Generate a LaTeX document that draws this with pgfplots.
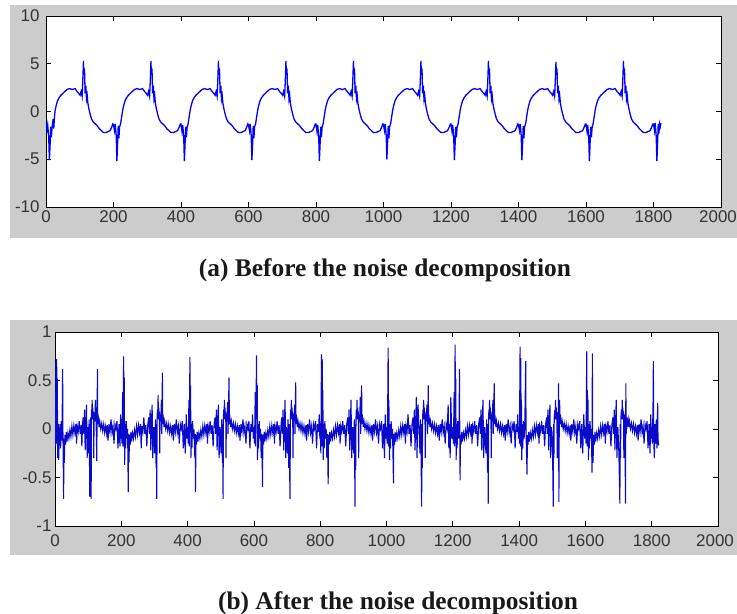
\documentclass[border=0pt]{standalone}
\usepackage{fontspec}
\setmainfont{Liberation Sans}
\newfontfamily\capfont{Liberation Serif}
\usepackage{pgfplots}
\pgfplotsset{compat=1.18}
\definecolor{figgray}{RGB}{204,204,204}
\definecolor{sigblue}{RGB}{0,0,255}
\definecolor{detblue}{RGB}{10,10,205}

\pgfplotsset{
  matlab/.style={
    scale only axis,
    anchor=south west,
    xmin=0, xmax=2000,
    xtick={0,200,...,1800},
    extra x ticks={2000},
    extra x tick style={xticklabel style={xshift=-3bp}},
    tick pos=both,
    tick align=inside,
    major tick length=5bp,
    axis line style={black, line width=0.8bp},
    tick style={black, line width=0.8bp},
    axis background/.style={fill=white},
    ticklabel style={font=\fontsize{17}{17}\selectfont, text=black!80},
    /pgf/number format/assume math mode=true,
    /pgf/number format/1000 sep={},
    scaled ticks=false,
    clip=true,
  }
}

\begin{document}
\begin{tikzpicture}
\useasboundingbox (0bp,0bp) rectangle (737bp,-614bp);
\fill[figgray] (10bp,-5bp) rectangle (737bp,-238bp);
\fill[figgray] (10bp,-320bp) rectangle (737bp,-555bp);

% (a) before
\begin{axis}[matlab,
  at={(46bp,-207bp)}, width=675bp, height=191bp,
  ymin=-10, ymax=10, ytick={-10,-5,0,5,10},
  yticklabel style={xshift=-3bp},
]
\addplot[sigblue, line width=1.3bp] coordinates {
(0,-1.2) (3,-1.9) (5,-1.4) (8,-2.6) (10,-5.1) (12,-3.6) (14,-1.6) (16,-2.7) (18,-1.7) (21,-0.8) (23,-1.8) (25,-0.6) (27,0.1) (30,0.6) (34,1.1) (38,1.4) (44,1.7) (50,1.9) (56,2.1) (62,2.3) (70,2.4) (78,2.3) (86,2.4) (92,2.1) (97,1.9) (101,1.7) (104,2.1) (107,1.6) (109,3.2) (111,5.3) (112,3.9) (114,4.5) (116,1.9) (118,2.7) (120,1.3) (122,1.7) (124,0.9) (127,0.3) (131,-0.3) (135,-0.8) (140,-1.1) (146,-1.3) (152,-1.5) (158,-1.8) (164,-2.0) (170,-2.2) (178,-2.2) (184,-2.1) (190,-2.0) (195,-1.6) (198,-1.3)
(200,-1.4) (203,-2.0) (205,-1.3) (208,-2.5) (210,-5.2) (212,-3.5) (214,-1.5) (216,-2.8) (218,-1.6) (221,-1.3) (224,-0.6) (227,0.1) (230,0.6) (234,1.1) (238,1.4) (244,1.7) (250,1.9) (256,2.1) (262,2.3) (270,2.4) (278,2.3) (286,2.4) (292,2.1) (297,1.9) (301,1.7) (304,2.1) (307,1.6) (309,3.2) (311,5.3) (312,3.9) (314,4.5) (316,1.9) (318,2.7) (320,1.3) (322,1.7) (324,0.9) (327,0.3) (331,-0.3) (335,-0.8) (340,-1.1) (346,-1.3) (352,-1.5) (358,-1.8) (364,-2.0) (370,-2.2) (378,-2.2) (384,-2.1) (390,-2.0) (395,-1.6) (398,-1.3)
(400,-1.3) (403,-2.1) (405,-1.4) (408,-2.6) (410,-5.2) (412,-3.4) (414,-1.6) (416,-2.7) (418,-1.7) (421,-1.3) (424,-0.6) (427,0.1) (430,0.6) (434,1.1) (438,1.4) (444,1.7) (450,1.9) (456,2.1) (462,2.3) (470,2.4) (478,2.3) (486,2.4) (492,2.1) (497,1.9) (501,1.7) (504,2.1) (507,1.6) (509,3.2) (511,5.3) (512,3.9) (514,4.5) (516,1.9) (518,2.7) (520,1.3) (522,1.7) (524,0.9) (527,0.3) (531,-0.3) (535,-0.8) (540,-1.1) (546,-1.3) (552,-1.5) (558,-1.8) (564,-2.0) (570,-2.2) (578,-2.2) (584,-2.1) (590,-2.0) (595,-1.6) (598,-1.3)
(600,-1.4) (603,-2.0) (605,-1.3) (608,-2.5) (610,-5.1) (612,-3.6) (614,-1.5) (616,-2.8) (618,-1.6) (621,-1.3) (624,-0.6) (627,0.1) (630,0.6) (634,1.1) (638,1.4) (644,1.7) (650,1.9) (656,2.1) (662,2.3) (670,2.4) (678,2.3) (686,2.4) (692,2.1) (697,1.9) (701,1.7) (704,2.1) (707,1.6) (709,3.2) (711,5.3) (712,3.9) (714,4.5) (716,1.9) (718,2.7) (720,1.3) (722,1.7) (724,0.9) (727,0.3) (731,-0.3) (735,-0.8) (740,-1.1) (746,-1.3) (752,-1.5) (758,-1.8) (764,-2.0) (770,-2.2) (778,-2.2) (784,-2.1) (790,-2.0) (795,-1.6) (798,-1.3)
(800,-1.3) (803,-2.1) (805,-1.4) (808,-2.6) (810,-5.2) (812,-3.5) (814,-1.6) (816,-2.7) (818,-1.7) (821,-1.3) (824,-0.6) (827,0.1) (830,0.6) (834,1.1) (838,1.4) (844,1.7) (850,1.9) (856,2.1) (862,2.3) (870,2.4) (878,2.3) (886,2.4) (892,2.1) (897,1.9) (901,1.7) (904,2.1) (907,1.6) (909,3.2) (911,5.3) (912,3.9) (914,4.5) (916,1.9) (918,2.7) (920,1.3) (922,1.7) (924,0.9) (927,0.3) (931,-0.3) (935,-0.8) (940,-1.1) (946,-1.3) (952,-1.5) (958,-1.8) (964,-2.0) (970,-2.2) (978,-2.2) (984,-2.1) (990,-2.0) (995,-1.6) (998,-1.3)
(1000,-1.4) (1003,-2.0) (1005,-1.3) (1008,-2.5) (1010,-5.0) (1012,-3.4) (1014,-1.5) (1016,-2.8) (1018,-1.6) (1021,-1.3) (1024,-0.6) (1027,0.1) (1030,0.6) (1034,1.1) (1038,1.4) (1044,1.7) (1050,1.9) (1056,2.1) (1062,2.3) (1070,2.4) (1078,2.3) (1086,2.4) (1092,2.1) (1097,1.9) (1101,1.7) (1104,2.1) (1107,1.6) (1109,3.2) (1111,5.3) (1112,3.9) (1114,4.5) (1116,1.9) (1118,2.7) (1120,1.3) (1122,1.7) (1124,0.9) (1127,0.3) (1131,-0.3) (1135,-0.8) (1140,-1.1) (1146,-1.3) (1152,-1.5) (1158,-1.8) (1164,-2.0) (1170,-2.2) (1178,-2.2) (1184,-2.1) (1190,-2.0) (1195,-1.6) (1198,-1.3)
(1200,-1.3) (1203,-2.1) (1205,-1.4) (1208,-2.6) (1210,-5.1) (1212,-3.6) (1214,-1.6) (1216,-2.7) (1218,-1.7) (1221,-1.3) (1224,-0.6) (1227,0.1) (1230,0.6) (1234,1.1) (1238,1.4) (1244,1.7) (1250,1.9) (1256,2.1) (1262,2.3) (1270,2.4) (1278,2.3) (1286,2.4) (1292,2.1) (1297,1.9) (1301,1.7) (1304,2.1) (1307,1.6) (1309,3.2) (1311,5.3) (1312,3.9) (1314,4.5) (1316,1.9) (1318,2.7) (1320,1.3) (1322,1.7) (1324,0.9) (1327,0.3) (1331,-0.3) (1335,-0.8) (1340,-1.1) (1346,-1.3) (1352,-1.5) (1358,-1.8) (1364,-2.0) (1370,-2.2) (1378,-2.2) (1384,-2.1) (1390,-2.0) (1395,-1.6) (1398,-1.3)
(1400,-1.4) (1403,-2.0) (1405,-1.3) (1408,-2.5) (1410,-5.1) (1412,-3.5) (1414,-1.5) (1416,-2.8) (1418,-1.6) (1421,-1.3) (1424,-0.6) (1427,0.1) (1430,0.6) (1434,1.1) (1438,1.4) (1444,1.7) (1450,1.9) (1456,2.1) (1462,2.3) (1470,2.4) (1478,2.3) (1486,2.4) (1492,2.1) (1497,1.9) (1501,1.7) (1504,2.1) (1507,1.6) (1509,3.2) (1511,5.2) (1512,3.9) (1514,4.5) (1516,1.9) (1518,2.7) (1520,1.3) (1522,1.7) (1524,0.9) (1527,0.3) (1531,-0.3) (1535,-0.8) (1540,-1.1) (1546,-1.3) (1552,-1.5) (1558,-1.8) (1564,-2.0) (1570,-2.2) (1578,-2.2) (1584,-2.1) (1590,-2.0) (1595,-1.6) (1598,-1.3)
(1600,-1.3) (1603,-2.1) (1605,-1.4) (1608,-2.6) (1610,-5.2) (1612,-3.4) (1614,-1.6) (1616,-2.7) (1618,-1.7) (1621,-1.3) (1624,-0.6) (1627,0.1) (1630,0.6) (1634,1.1) (1638,1.4) (1644,1.7) (1650,1.9) (1656,2.1) (1662,2.3) (1670,2.4) (1678,2.3) (1686,2.4) (1692,2.1) (1697,1.9) (1701,1.7) (1704,2.1) (1707,1.6) (1709,3.2) (1711,5.3) (1712,3.9) (1714,4.5) (1716,1.9) (1718,2.7) (1720,1.3) (1722,1.7) (1724,0.9) (1727,0.3) (1731,-0.3) (1735,-0.8) (1740,-1.1) (1746,-1.3) (1752,-1.5) (1758,-1.8) (1764,-2.0) (1770,-2.2) (1778,-2.2) (1784,-2.1) (1790,-2.0) (1795,-1.6) (1798,-1.3)
(1800,-1.3) (1803,-2.0) (1805,-1.2) (1808,-2.6) (1810,-5.2) (1812,-3.4) (1814,-1.3) (1816,-2.3) (1818,-1.3) (1820,-1.6) (1822,-1.2)
};
\end{axis}
\node[font=\capfont\bfseries\fontsize{25.5}{25.5}\selectfont, text=black!90] at (385bp,-270bp) {(a) Before the noise decomposition};

% (b) after
\begin{axis}[matlab,
  at={(55bp,-526bp)}, width=663bp, height=194bp,
  ymin=-1, ymax=1, ytick={-1,-0.5,0,0.5,1},
  yticklabel style={/pgf/number format/fixed},
  xticklabel style={yshift=-5bp},
]
\addplot[detblue, line width=1.1bp] coordinates {
(0,-0.05) (1,0.38) (2,-0.18) (3,0.70) (4,-0.15) (5,0.72) (6,0.10) (7,0.52) (8,-0.30) (10,0.05) (11,-0.32) (13,-0.08) (15,0.05) (17,-0.20) (19,0.08) (21,-0.12) (23,0.62) (24,-0.05) (26,-0.72) (27,-0.10) (28,-0.35) (30,-0.06) (32,-0.16) (34,-0.03) (36,-0.13) (39,-0.04) (42,-0.10) (45,-0.01) (48,-0.08) (51,0.03) (54,-0.06) (57,0.04) (60,-0.04) (63,0.05) (65,-0.15) (67,0.03) (70,-0.03) (73,0.08) (76,-0.05) (79,0.04) (81,-0.18) (83,0.05) (85,0.12) (87,-0.05) (89,0.20) (91,-0.22) (93,0.06) (95,0.25) (97,-0.30) (99,0.02)
(101,-0.25) (103,0.10) (105,-0.70) (106,0.05) (107,-0.30) (108,0.12) (109,-0.72) (110,0.20) (111,0.10) (112,0.30) (113,0.12) (114,0.22) (115,0.10) (116,0.18) (117,-0.30) (118,0.15) (120,0.08) (122,0.30) (124,0.10) (126,-0.33) (127,0.12) (128,0.62) (129,0.05) (131,0.10) (133,0.02) (135,0.08) (138,0.0) (141,0.06) (144,-0.02) (147,0.05) (150,-0.04) (153,0.03) (156,-0.05) (158,0.04) (160,-0.12) (163,0.05) (166,-0.03) (169,0.10) (172,-0.04) (175,0.03) (178,-0.15) (181,0.05) (184,0.0) (187,0.08) (190,-0.20) (193,0.05) (196,-0.18) (198,0.15) (199,-0.10)
(200,0.02) (202,-0.15) (204,0.38) (205,-0.18) (207,0.75) (208,0.10) (209,0.53) (210,-0.37) (212,0.05) (213,-0.20) (215,0.08) (217,-0.10) (219,0.0) (221,-0.65) (222,-0.05) (223,-0.35) (225,-0.06) (227,-0.16) (229,-0.03) (231,-0.13) (234,-0.04) (237,-0.10) (240,-0.01) (243,-0.08) (246,0.03) (249,-0.06) (252,0.04) (255,-0.04) (258,0.05) (260,-0.20) (262,0.03) (265,-0.03) (268,0.12) (271,-0.05) (274,0.04) (277,-0.18) (280,0.05) (283,0.12) (285,-0.05) (287,0.20) (289,-0.22) (291,0.06) (293,0.25) (295,-0.30) (298,0.02)
(301,-0.25) (303,0.10) (305,-0.40) (306,0.05) (307,-0.72) (308,0.12) (309,0.20) (310,0.10) (311,0.35) (312,0.12) (313,0.22) (314,0.10) (315,0.18) (316,-0.25) (317,0.15) (319,0.08) (321,0.30) (322,-0.05) (324,0.58) (325,0.05) (327,0.10) (329,0.02) (331,0.08) (334,0.0) (337,0.06) (340,-0.02) (343,0.05) (346,-0.04) (349,0.03) (352,-0.05) (355,0.04) (357,-0.12) (360,0.05) (363,-0.03) (366,0.10) (369,-0.04) (372,0.03) (375,-0.15) (378,0.05) (381,0.0) (384,0.08) (387,-0.20) (390,0.05) (393,-0.25) (396,0.15) (398,-0.10)
(400,0.02) (402,-0.15) (404,0.30) (405,-0.18) (407,0.74) (408,0.10) (409,0.45) (410,-0.30) (412,0.05) (413,-0.20) (415,0.08) (417,-0.10) (419,0.0) (422,-0.30) (423,-0.05) (424,-0.65) (425,-0.06) (427,-0.16) (429,-0.03) (431,-0.13) (434,-0.04) (437,-0.10) (440,-0.01) (443,-0.08) (446,0.03) (449,-0.06) (452,0.04) (455,-0.04) (458,0.05) (460,-0.15) (462,0.03) (465,-0.03) (468,0.08) (471,-0.05) (474,0.04) (477,-0.18) (480,0.05) (483,0.12) (485,-0.05) (487,0.20) (489,-0.22) (491,0.06) (493,0.25) (495,-0.30) (498,0.02)
(501,-0.25) (503,0.10) (505,-0.35) (506,0.05) (507,-0.72) (508,0.12) (509,0.20) (510,0.10) (511,0.30) (512,0.12) (513,0.22) (514,0.10) (515,0.18) (516,-0.30) (517,0.15) (519,0.08) (521,0.28) (522,-0.05) (525,0.53) (526,0.05) (528,0.10) (530,0.02) (532,0.08) (535,0.0) (538,0.06) (541,-0.02) (544,0.05) (547,-0.04) (550,0.03) (553,-0.05) (556,0.04) (558,-0.12) (561,0.05) (564,-0.03) (567,0.10) (570,-0.04) (573,0.03) (576,-0.15) (579,0.05) (582,0.0) (585,0.08) (588,-0.20) (591,0.05) (594,-0.03) (596,0.15) (598,-0.10)
(600,0.02) (602,-0.15) (604,0.38) (605,-0.18) (608,0.76) (609,0.10) (610,0.45) (611,-0.32) (613,0.05) (614,-0.20) (616,0.08) (618,-0.10) (620,0.0) (622,-0.30) (624,-0.05) (626,-0.60) (627,-0.06) (629,-0.16) (631,-0.03) (633,-0.13) (636,-0.04) (639,-0.10) (642,-0.01) (645,-0.08) (648,0.03) (651,-0.06) (654,0.04) (657,-0.04) (660,0.05) (662,-0.15) (664,0.03) (667,-0.03) (670,0.08) (673,-0.05) (676,0.04) (679,-0.18) (682,0.05) (684,0.12) (686,-0.05) (688,0.20) (690,-0.22) (692,0.06) (694,0.30) (696,-0.30) (698,0.02)
(701,-0.25) (703,0.10) (705,-0.40) (706,0.05) (709,-0.72) (710,0.12) (711,0.20) (712,0.10) (713,0.30) (714,0.12) (715,0.22) (716,0.10) (717,0.18) (718,-0.30) (719,0.15) (721,0.08) (723,0.25) (724,-0.05) (726,0.48) (727,0.05) (729,0.10) (731,0.02) (733,0.08) (736,0.0) (739,0.06) (742,-0.02) (745,0.05) (748,-0.04) (751,0.03) (754,-0.05) (757,0.04) (759,-0.12) (762,0.05) (765,-0.03) (768,0.10) (771,-0.04) (774,0.03) (777,-0.15) (780,0.05) (783,0.0) (786,0.08) (789,-0.20) (792,0.05) (795,-0.03) (797,0.15) (799,-0.10)
(800,0.02) (802,-0.25) (803,0.35) (804,0.77) (805,-0.18) (806,0.72) (807,0.10) (808,0.40) (809,-0.32) (811,0.05) (812,-0.20) (814,0.08) (816,-0.10) (818,0.0) (820,-0.30) (822,-0.05) (824,-0.57) (825,-0.06) (827,-0.16) (829,-0.03) (831,-0.13) (834,-0.04) (837,-0.10) (840,-0.01) (843,-0.08) (846,0.03) (849,-0.06) (852,0.04) (855,-0.04) (858,0.05) (860,-0.15) (862,0.03) (865,-0.03) (868,0.08) (871,-0.05) (874,0.04) (877,-0.18) (880,0.05) (883,0.12) (885,-0.05) (887,0.20) (889,-0.22) (891,0.06) (893,0.30) (895,-0.30) (898,0.02)
(901,-0.25) (903,0.10) (905,-0.80) (906,0.05) (907,-0.42) (908,0.12) (909,0.20) (910,0.10) (911,0.30) (912,0.12) (913,0.22) (914,0.10) (915,0.18) (916,-0.30) (917,0.15) (919,0.08) (921,0.33) (922,-0.05) (925,0.45) (926,0.05) (928,0.10) (930,0.02) (932,0.08) (935,0.0) (938,0.06) (941,-0.02) (944,0.05) (947,-0.04) (950,0.03) (953,-0.05) (956,0.04) (958,-0.12) (961,0.05) (964,-0.03) (967,0.10) (970,-0.04) (973,0.03) (976,-0.15) (979,0.05) (982,0.0) (985,0.08) (988,-0.20) (991,0.05) (994,-0.30) (996,0.15) (998,-0.10)
(1000,0.02) (1002,-0.15) (1004,0.38) (1005,0.84) (1006,-0.18) (1007,0.30) (1008,0.10) (1009,-0.32) (1011,0.05) (1012,-0.20) (1014,0.08) (1016,-0.10) (1018,0.0) (1020,-0.35) (1021,-0.56) (1022,-0.05) (1024,-0.16) (1026,-0.03) (1028,-0.13) (1031,-0.04) (1034,-0.10) (1037,-0.01) (1040,-0.08) (1043,0.03) (1046,-0.06) (1049,0.04) (1052,-0.04) (1055,0.05) (1057,-0.15) (1059,0.03) (1062,-0.03) (1065,0.15) (1068,-0.05) (1071,0.04) (1074,-0.18) (1077,0.05) (1080,0.12) (1082,-0.05) (1084,0.20) (1086,-0.22) (1088,0.06) (1090,0.33) (1092,-0.30) (1095,0.25) (1098,0.02)
(1101,-0.25) (1103,0.10) (1106,-0.80) (1107,0.05) (1108,-0.40) (1109,0.12) (1110,0.20) (1111,0.10) (1112,0.30) (1113,0.12) (1114,0.22) (1115,0.10) (1116,0.18) (1117,-0.30) (1118,0.15) (1120,0.08) (1122,0.25) (1124,-0.05) (1126,0.45) (1127,0.05) (1129,0.10) (1131,0.02) (1133,0.08) (1136,0.0) (1139,0.06) (1142,-0.02) (1145,0.05) (1148,-0.04) (1151,0.03) (1154,-0.05) (1157,0.04) (1159,-0.12) (1162,0.05) (1165,-0.03) (1168,0.10) (1171,-0.04) (1174,0.03) (1177,-0.15) (1180,0.05) (1183,0.0) (1186,0.25) (1188,-0.20) (1190,0.05) (1192,-0.30) (1194,0.33) (1197,-0.10)
(1200,0.02) (1202,-0.15) (1204,0.38) (1205,-0.18) (1207,0.87) (1208,0.10) (1209,0.52) (1210,-0.32) (1212,0.05) (1213,-0.20) (1215,0.08) (1217,-0.10) (1219,0.0) (1220,0.62) (1221,-0.05) (1222,-0.53) (1223,-0.06) (1225,-0.16) (1227,-0.03) (1229,-0.13) (1232,-0.04) (1235,-0.10) (1238,-0.01) (1241,-0.08) (1244,0.03) (1247,-0.06) (1250,0.04) (1253,-0.04) (1256,0.05) (1258,-0.15) (1260,0.03) (1263,-0.03) (1266,0.08) (1269,-0.05) (1272,0.04) (1275,-0.18) (1278,0.05) (1281,0.12) (1283,-0.05) (1285,0.20) (1287,-0.22) (1289,0.06) (1291,0.30) (1293,-0.30) (1296,0.02)
(1300,-0.25) (1302,0.10) (1305,-0.45) (1306,0.05) (1307,-0.77) (1308,0.12) (1309,0.20) (1310,0.10) (1311,0.30) (1312,0.12) (1313,0.22) (1314,0.10) (1315,0.18) (1316,-0.30) (1317,0.15) (1319,0.08) (1321,0.30) (1322,-0.05) (1325,0.47) (1326,0.05) (1328,0.10) (1330,0.02) (1332,0.08) (1335,0.0) (1338,0.06) (1341,-0.02) (1344,0.05) (1347,-0.04) (1350,0.03) (1353,-0.05) (1356,0.04) (1358,-0.12) (1361,0.05) (1364,-0.03) (1367,0.10) (1370,-0.04) (1373,0.03) (1376,-0.15) (1379,0.05) (1382,0.0) (1385,0.08) (1388,-0.20) (1391,0.05) (1394,-0.03) (1396,0.15) (1398,-0.10)
(1400,0.02) (1401,-0.15) (1403,0.85) (1404,-0.18) (1405,0.73) (1406,0.10) (1407,0.30) (1408,-0.32) (1410,0.05) (1411,-0.20) (1413,0.08) (1415,-0.10) (1417,0.0) (1420,0.70) (1421,-0.05) (1424,-0.47) (1425,-0.06) (1427,-0.16) (1429,-0.03) (1431,-0.13) (1434,-0.04) (1437,-0.10) (1440,-0.01) (1443,-0.08) (1446,0.03) (1449,-0.06) (1452,0.04) (1455,-0.04) (1458,0.05) (1460,-0.15) (1462,0.03) (1465,-0.03) (1468,0.08) (1471,-0.05) (1474,0.04) (1477,-0.18) (1480,0.05) (1483,0.12) (1485,-0.05) (1487,0.20) (1489,-0.22) (1491,0.06) (1493,0.25) (1495,-0.30) (1498,0.02)
(1501,-0.25) (1503,-0.80) (1504,0.05) (1505,-0.30) (1506,0.12) (1508,0.20) (1509,0.10) (1510,0.30) (1511,0.12) (1512,0.22) (1513,0.10) (1514,0.18) (1515,-0.30) (1516,0.15) (1518,0.08) (1519,0.47) (1520,-0.75) (1521,-0.05) (1522,0.30) (1524,0.05) (1526,0.10) (1528,0.02) (1530,0.08) (1533,0.0) (1536,0.06) (1539,-0.02) (1542,0.05) (1545,-0.04) (1548,0.03) (1551,-0.05) (1554,0.04) (1556,-0.12) (1559,0.05) (1562,-0.03) (1565,0.10) (1568,-0.04) (1571,0.03) (1574,-0.15) (1577,0.05) (1580,0.0) (1583,0.08) (1586,-0.20) (1589,0.05) (1592,-0.25) (1595,0.15) (1598,-0.10)
(1600,0.02) (1602,-0.15) (1604,0.80) (1605,-0.18) (1606,0.40) (1607,0.10) (1608,0.30) (1609,-0.32) (1611,0.05) (1612,-0.20) (1614,0.08) (1616,-0.10) (1618,0.0) (1620,-0.45) (1621,0.78) (1622,-0.05) (1623,-0.35) (1625,-0.06) (1627,-0.16) (1629,-0.03) (1631,-0.13) (1634,-0.04) (1637,-0.10) (1640,-0.01) (1643,-0.08) (1646,0.03) (1649,-0.06) (1652,0.04) (1655,-0.04) (1658,0.05) (1660,-0.15) (1662,0.03) (1665,-0.03) (1668,0.08) (1671,-0.05) (1674,0.04) (1677,-0.18) (1680,0.05) (1683,0.12) (1685,-0.05) (1687,0.20) (1689,-0.22) (1691,0.06) (1693,0.30) (1695,-0.30) (1698,0.02)
(1701,-0.25) (1704,-0.77) (1705,0.05) (1706,-0.30) (1707,0.12) (1709,0.20) (1710,0.10) (1711,0.30) (1712,0.12) (1713,0.22) (1714,0.10) (1715,0.18) (1716,-0.30) (1717,0.15) (1719,0.08) (1721,-0.77) (1722,0.47) (1723,-0.05) (1725,0.12) (1727,0.05) (1729,0.10) (1731,0.02) (1733,0.08) (1736,0.0) (1739,0.06) (1742,-0.02) (1745,0.05) (1748,-0.04) (1751,0.03) (1754,-0.05) (1757,0.04) (1759,-0.12) (1762,0.05) (1765,-0.03) (1768,0.10) (1771,-0.04) (1774,0.03) (1777,-0.15) (1780,0.05) (1783,0.0) (1786,0.08) (1789,-0.20) (1792,0.05) (1795,-0.25) (1797,0.15) (1799,-0.10)
(1800,0.02) (1802,-0.15) (1804,0.25) (1805,0.70) (1806,-0.10) (1808,-0.30) (1810,0.05) (1812,-0.15) (1814,0.10) (1816,-0.20) (1818,0.27) (1819,-0.10) (1821,-0.17)
};
\end{axis}
\node[font=\capfont\bfseries\fontsize{25.5}{25.5}\selectfont, text=black!90] at (398bp,-603bp) {(b) After the noise decomposition};
\end{tikzpicture}
\end{document}
